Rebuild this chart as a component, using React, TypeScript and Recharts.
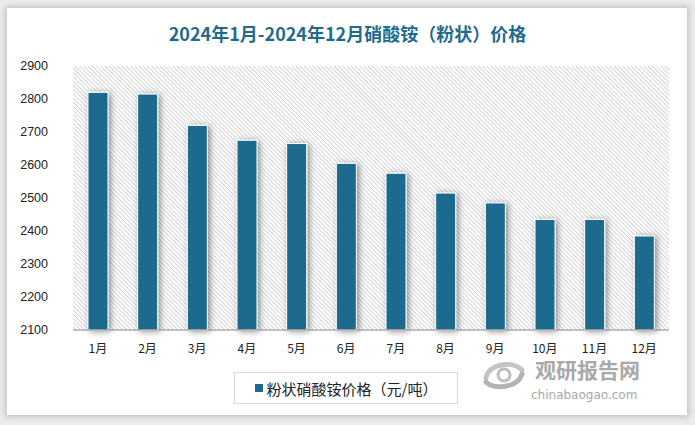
import React from "react";
import { BarChart, Bar, XAxis, YAxis, CartesianGrid } from "recharts";

const months = ["1月", "2月", "3月", "4月", "5月", "6月", "7月", "8月", "9月", "10月", "11月", "12月"];
const prices = [2820, 2815, 2720, 2675, 2665, 2605, 2575, 2515, 2485, 2435, 2435, 2385];
const yTicks = [2100, 2200, 2300, 2400, 2500, 2600, 2700, 2800, 2900];

const seriesName = "粉状硝酸铵价格（元/吨）";
const barColor = "#1c6b8e";
const cjk = '"Noto Sans CJK SC", "Liberation Sans", sans-serif';

const data = months.map((m, i) => ({ month: m, price: prices[i] }));

const ShadowBar = (props: any) => {
  const { x, y, width, height } = props;
  if (height <= 0) return null;
  return (
    <rect x={x} y={y} width={width} height={height} fill={barColor} stroke="#ffffff" strokeWidth={1} filter="url(#barShadow)" />
  );
};

export default function App() {
  return (
    <div style={{ position: "absolute", left: 0, top: 0, width: 695, height: 425, background: "#ececec", overflow: "hidden" }}>
      <div
        style={{
          position: "absolute",
          left: 7,
          top: 8,
          width: 680,
          height: 407,
          background: "#fff",
          boxShadow: "0 0 6px 2px rgba(0,0,0,0.18)",
        }}
      />
      <div
        style={{
          position: "absolute",
          left: 0,
          top: 24,
          width: 695,
          textAlign: "center",
          fontFamily: cjk,
          fontWeight: "bold",
          fontSize: 18,
          lineHeight: 1,
          color: "#1f6b8e",
        }}
      >
        2024年1月-2024年12月硝酸铵（粉状）价格
      </div>
      <div style={{ position: "absolute", left: 0, top: 0 }}>
        <BarChart width={695} height={425} data={data} margin={{ top: 66, right: 26, bottom: 65, left: 0 }}>
          <defs>
            <pattern id="hatch" patternUnits="userSpaceOnUse" width={3} height={3} patternTransform="rotate(-45)">
              <rect x={0} y={0} width={3} height={3} fill="#ffffff" />
              <rect x={0} y={0} width={1} height={3} fill="#d4d4d4" />
            </pattern>
            <filter id="barShadow" x="-60%" y="-10%" width="220%" height="130%">
              <feDropShadow dx={2} dy={1} stdDeviation={3} floodColor="#000" floodOpacity={0.45} />
            </filter>
          </defs>
          <CartesianGrid horizontal={false} vertical={false} fill="url(#hatch)" stroke="none" />
          <XAxis
            dataKey="month"
            height={30}
            axisLine={{ stroke: "#898989" }}
            tickLine={false}
            tickMargin={8}
            interval={0}
            tick={{ fontSize: 12, fill: "#222", fontFamily: cjk }}
          />
          <YAxis
            width={73}
            domain={[2100, 2900]}
            ticks={yTicks}
            interval={0}
            axisLine={false}
            tickLine={false}
            tickMargin={19}
            tick={{ fontSize: 12.5, fill: "#222", fontFamily: '"Liberation Sans Narrow", "Liberation Sans", sans-serif' }}
          />
          <Bar dataKey="price" name={seriesName} barSize={20} shape={ShadowBar} isAnimationActive={false} />
        </BarChart>
      </div>
      <div
        style={{
          position: "absolute",
          left: 234,
          top: 372,
          width: 222,
          height: 30,
          border: "1px solid #d9d9d9",
          display: "flex",
          alignItems: "center",
          justifyContent: "center",
          fontFamily: cjk,
          fontSize: 15,
          color: "#222",
          background: "#fff",
        }}
      >
        <span style={{ width: 8, height: 8, background: barColor, display: "inline-block", marginRight: 4 }} />
        {seriesName}
      </div>
      <div style={{ position: "absolute", left: 478, top: 358 }}>
        <svg width={52} height={34} viewBox="0 0 52 34">
          <path d="M8 20 C 10 6, 34 2, 44 12" stroke="#c4c4c4" strokeWidth={5} fill="none" strokeLinecap="round" />
          <path d="M44 16 C 40 30, 16 32, 8 24" stroke="#b3b3b3" strokeWidth={5} fill="none" strokeLinecap="round" />
          <circle cx={26} cy={17} r={6} stroke="#bdbdbd" strokeWidth={3} fill="none" />
        </svg>
      </div>
      <div
        style={{
          position: "absolute",
          left: 535,
          top: 359,
          fontFamily: cjk,
          fontWeight: "bold",
          fontSize: 21,
          lineHeight: 1,
          color: "#a9a9a9",
        }}
      >
        观研报告网
      </div>
      <div
        style={{
          position: "absolute",
          left: 531,
          top: 389,
          fontFamily: '"DejaVu Sans", sans-serif',
          fontSize: 12,
          lineHeight: 1,
          color: "#a9a9a9",
        }}
      >
        chinabaogao.com
      </div>
    </div>
  );
}
